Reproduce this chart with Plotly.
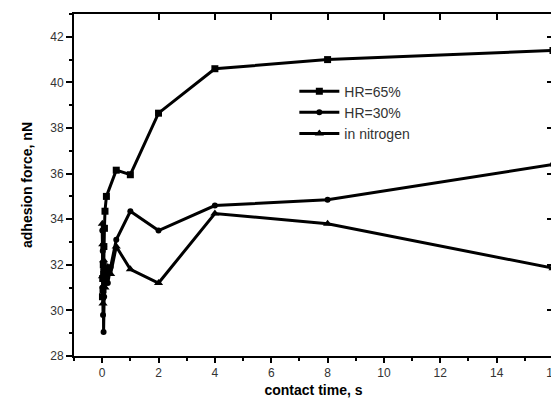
import plotly.graph_objects as go

# ---- data ----
t_hr65 = [0.01, 0.02, 0.03, 0.04, 0.05, 0.06, 0.08, 0.1, 0.15, 0.5, 1, 2, 4, 8, 16]
f_hr65 = [30.6, 31.4, 30.9, 32.0, 31.6, 32.8, 33.6, 34.35, 35.0, 36.15, 35.95, 38.65, 40.6, 41.0, 41.4]

t_hr30 = [0.005, 0.01, 0.02, 0.03, 0.04, 0.05, 0.07, 0.1, 0.2, 0.3, 0.5, 1, 2, 4, 8, 16]
f_hr30 = [33.5, 31.0, 32.6, 29.8, 31.8, 29.05, 30.6, 31.5, 31.2, 31.9, 33.1, 34.35, 33.5, 34.6, 34.85, 36.4]

t_n2 = [0.005, 0.01, 0.02, 0.03, 0.05, 0.1, 0.2, 0.3, 0.5, 1, 2, 4, 8, 16]
f_n2 = [33.8, 31.5, 32.9, 30.3, 32.2, 31.0, 31.9, 31.6, 32.8, 31.8, 31.2, 34.25, 33.8, 31.85]

names = ["HR=65%", "HR=30%", "in nitrogen"]
x_range = [-1, 16]
y_range = [28, 43]
x_ticks = [0, 2, 4, 6, 8, 10, 12, 14, 16]
y_ticks = [28, 30, 32, 34, 36, 38, 40, 42]

fig = go.Figure()
series = [(t_hr65, f_hr65, "square", 7), (t_hr30, f_hr30, "circle", 6), (t_n2, f_n2, "triangle-up", 8)]
for (t, f, sym, sz), nm in zip(series, names):
    fig.add_trace(go.Scatter(x=t, y=f, name=nm, mode="lines+markers",
                             line=dict(color="black", width=3),
                             marker=dict(symbol=sym, size=sz, color="black")))

# transparent copies on the mirrored (top / right) axes so they get drawn with inward ticks
fig.add_trace(go.Scatter(x=t_n2, y=f_n2, xaxis="x2", yaxis="y", mode="markers",
                         marker=dict(opacity=0), showlegend=False, hoverinfo="skip"))
fig.add_trace(go.Scatter(x=t_n2, y=f_n2, xaxis="x", yaxis="y2", mode="markers",
                         marker=dict(opacity=0), showlegend=False, hoverinfo="skip"))

font_family = "Liberation Sans, Arial, sans-serif"
# page body has an 8px default margin, so the figure is sized to the remaining viewport
fig.update_layout(
    width=551, height=397,
    margin=dict(l=66, r=6, t=6, b=49),
    paper_bgcolor="white", plot_bgcolor="white",
    font=dict(family=font_family, color="#222", size=12),
    showlegend=True,
    legend=dict(x=0.46, y=0.82, xanchor="left", yanchor="top",
                bgcolor="rgba(0,0,0,0)", font=dict(size=14, color="#333"),
                tracegroupgap=0, itemwidth=40),
    xaxis=dict(range=x_range, tickvals=x_ticks, ticks="outside", ticklen=5, tickwidth=2,
               tickcolor="black", showline=True, linecolor="black", linewidth=2,
               showgrid=False, zeroline=False, ticklabeloverflow="allow", automargin=False,
               minor=dict(dtick=1, tick0=-1, ticks="outside", ticklen=3, tickwidth=2, tickcolor="black"),
               title=dict(text="<b>contact time, s</b>", font=dict(size=14, color="black"), standoff=6),
               tickfont=dict(size=12, color="#333")),
    yaxis=dict(range=y_range, tickvals=y_ticks, ticks="outside", ticklen=6, tickwidth=2,
               tickcolor="black", showline=True, linecolor="black", linewidth=2,
               showgrid=False, zeroline=False, automargin=False,
               minor=dict(dtick=1, tick0=28, ticks="outside", ticklen=3, tickwidth=2, tickcolor="black"),
               title=dict(text="<b>adhesion force, nN</b>", font=dict(size=14, color="black"), standoff=14),
               tickfont=dict(size=12, color="#333")),
    xaxis2=dict(range=x_range, overlaying="x", side="top", anchor="y", tickvals=x_ticks[1:-1],
                ticks="inside", ticklen=6, tickwidth=2, tickcolor="black", showticklabels=False,
                showline=True, linecolor="black", linewidth=2, showgrid=False, zeroline=False,
                automargin=False),
    yaxis2=dict(range=y_range, overlaying="y", side="right", anchor="x", tickvals=y_ticks[1:],
                ticks="inside", ticklen=6, tickwidth=2, tickcolor="black", showticklabels=False,
                showline=True, linecolor="black", linewidth=2, showgrid=False, zeroline=False,
                automargin=False),
)

fig.write_html("out.html")
